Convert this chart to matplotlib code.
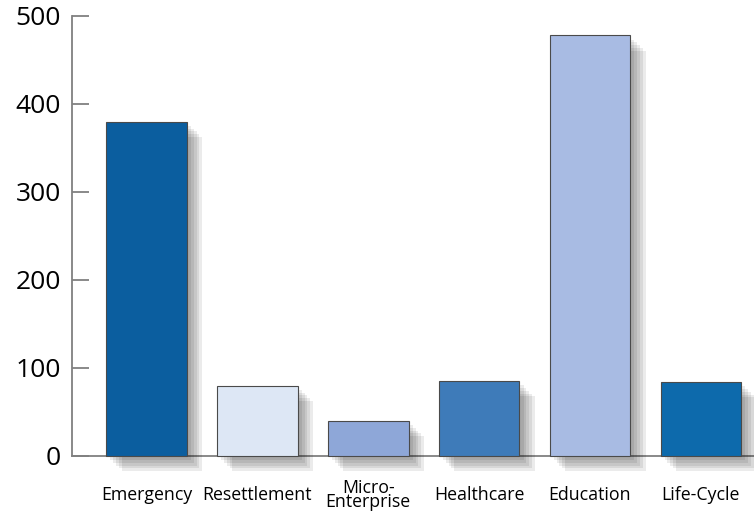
import matplotlib.pyplot as plt
import matplotlib.patheffects as pe
import numpy as np

categories = ['Emergency', 'Resettlement', 'Micro-\nEnterprise', 'Healthcare', 'Education', 'Life-Cycle']
values = [380, 80, 40, 85, 478, 84]
colors = ['#0b5e9f', '#dde7f5', '#8ea7d8', '#3e7bb9', '#a8bbe3', '#0d6aac']
yticks = [0, 100, 200, 300, 400, 500]

plt.rcParams['font.family'] = ['Open Sans', 'DejaVu Sans']

fig = plt.figure(figsize=(7.54, 5.12), dpi=100)
ax = fig.add_axes([0.0955, 0.1094, 0.9045, 0.8594])

# soft drop shadow built from stacked offset copies
shadow = [pe.SimplePatchShadow(offset=(o, -o), shadow_rgbFace='k', alpha=0.08)
          for o in (3, 5, 7, 9, 11)]
shadow.append(pe.Normal())

x = np.arange(len(categories))
bars = ax.bar(x, values, width=0.727, color=colors, edgecolor='#4a4a4a',
              linewidth=0.8, zorder=3)
for b in bars:
    b.set_path_effects(shadow)
    b.set_clip_on(False)

ax.set_xlim(-0.673, 5.48)
ax.set_ylim(0, 500)
ax.set_yticks(yticks)
ax.set_xticks(x)
ax.set_xticklabels(categories, fontsize=12.8, va='center', linespacing=0.75)
ax.tick_params(axis='x', length=0, pad=28)
ax.tick_params(axis='y', direction='in', length=12, width=1.3, color='#808080',
               labelsize=19, pad=8)

for side in ('top', 'right'):
    ax.spines[side].set_visible(False)
for side in ('left', 'bottom'):
    ax.spines[side].set_color('#808080')
    ax.spines[side].set_linewidth(1.3)

fig.savefig('out.png', dpi=100)
